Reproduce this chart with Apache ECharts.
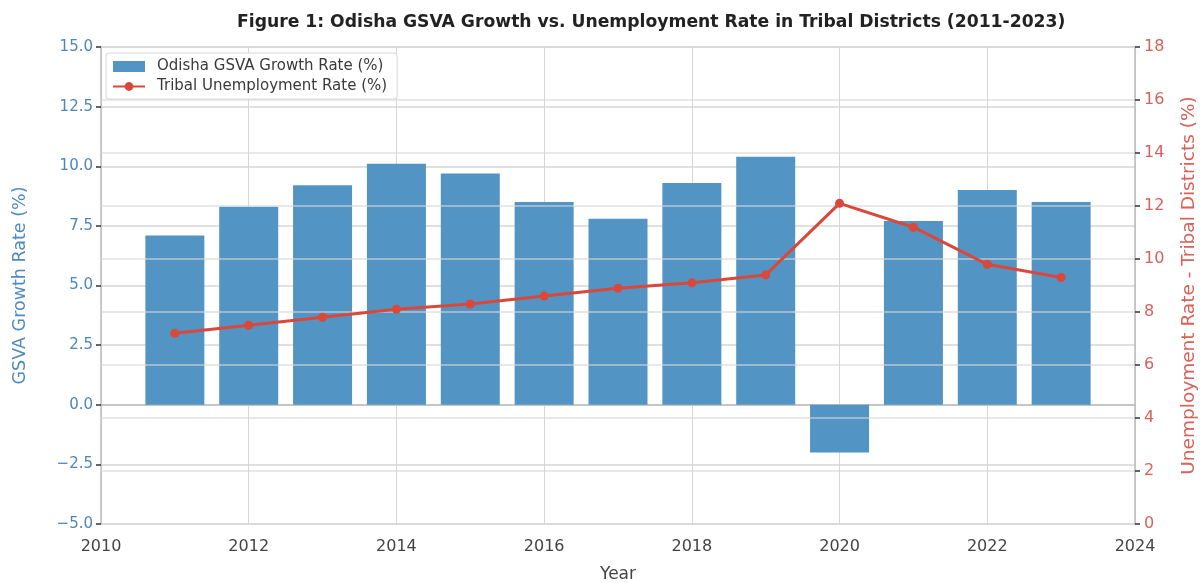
<!DOCTYPE html>
<html>
<head>
<meta charset="utf-8">
<script src="https://cdn.jsdelivr.net/npm/echarts@6/dist/echarts.min.js"></script>
<style>
  html, body { margin: 0; padding: 0; background: #fff; }
  #chart { width: 1202px; height: 583px; }
</style>
</head>
<body>
<div id="chart"></div>
<script>
// data
var years = [2011, 2012, 2013, 2014, 2015, 2016, 2017, 2018, 2019, 2020, 2021, 2022, 2023];
var gsvaGrowth = [7.1, 8.3, 9.2, 10.1, 9.7, 8.5, 7.8, 9.3, 10.4, -2.0, 7.7, 9.0, 8.5];
var tribalUnemp = [7.2, 7.5, 7.8, 8.1, 8.3, 8.6, 8.9, 9.1, 9.4, 12.1, 11.2, 9.8, 9.3];

var blue = '#5294c4';
var red = '#d9483b';
var font = 'DejaVu Sans';

function pairs(xs, ys) {
  var out = [];
  for (var i = 0; i < xs.length; i++) out.push([xs[i], ys[i]]);
  return out;
}

var chart = echarts.init(document.getElementById('chart'));

var option = {
  animation: false,
  textStyle: { fontFamily: font },
  title: {
    text: 'Figure 1: Odisha GSVA Growth vs. Unemployment Rate in Tribal Districts (2011-2023)',
    left: 232,
    top: 9,
    textStyle: { fontFamily: font, fontWeight: 'bold', fontSize: 17.2, color: '#222' }
  },
  legend: {
    left: 106,
    top: 53,
    orient: 'vertical',
    backgroundColor: '#fff',
    borderColor: '#d8d8d8',
    borderWidth: 1,
    borderRadius: 3,
    padding: [6, 10, 5, 6],
    itemGap: 5,
    itemWidth: 32,
    itemHeight: 11,
    textStyle: { fontFamily: font, fontSize: 15, color: '#3a3a3a', padding: [0, 0, 0, 7] },
    data: [
      { name: 'Odisha GSVA Growth Rate (%)', icon: 'rect' },
      { name: 'Tribal Unemployment Rate (%)' }
    ]
  },
  grid: { left: 101, right: 67, top: 47, bottom: 59, containLabel: false, outerBoundsMode: 'none' },
  xAxis: {
    type: 'value',
    min: 2010,
    max: 2024,
    interval: 2,
    name: 'Year',
    nameLocation: 'middle',
    nameGap: 42,
    nameTextStyle: { fontFamily: font, fontSize: 17, color: '#444' },
    axisLine: { show: true, lineStyle: { color: '#bcbcbc', width: 1.5 } },
    axisTick: { show: false },
    axisLabel: {
      fontFamily: font, fontSize: 16, color: '#444', margin: 15,
      formatter: function (v) { return String(v); }
    },
    splitLine: { show: true, lineStyle: { color: '#d6d6d6', width: 1 } }
  },
  yAxis: [
    {
      type: 'value',
      min: -5,
      max: 15,
      interval: 2.5,
      name: 'GSVA Growth Rate (%)',
      nameLocation: 'middle',
      nameGap: 72,
      nameRotate: 90,
      nameTextStyle: { fontFamily: font, fontSize: 17.5, color: '#4f8bbf' },
      axisLine: { show: true, lineStyle: { color: '#bcbcbc', width: 1.5 } },
      axisTick: { show: true, length: 5, lineStyle: { color: '#333', width: 1.5 } },
      axisLabel: {
        fontFamily: font, fontSize: 15, color: '#4f86b8', margin: 8,
        formatter: function (v) { return (v < 0 ? '\u2212' : '') + Math.abs(v).toFixed(1); }
      },
      splitLine: { show: true, lineStyle: { color: '#d6d6d6', width: 1.5 } }
    },
    {
      type: 'value',
      min: 0,
      max: 18,
      interval: 2,
      position: 'right',
      z: 3,
      name: 'Unemployment Rate - Tribal Districts (%)',
      nameLocation: 'middle',
      nameGap: 45,
      nameRotate: 90,
      nameTextStyle: { fontFamily: font, fontSize: 18.5, color: '#d6625a' },
      axisLine: { show: true, lineStyle: { color: '#bcbcbc', width: 1.5 } },
      axisTick: { show: true, length: 5, lineStyle: { color: '#333', width: 1.5 } },
      axisLabel: { fontFamily: font, fontSize: 16, color: '#d6625a', margin: 9 },
      splitLine: { show: true, lineStyle: { color: 'rgba(215,215,215,0.75)', width: 1.5 } }
    }
  ],
  series: [
    {
      name: 'Odisha GSVA Growth Rate (%)',
      type: 'bar',
      yAxisIndex: 0,
      barWidth: 59,
      itemStyle: { color: blue },
      data: pairs(years, gsvaGrowth)
    },
    {
      name: 'Tribal Unemployment Rate (%)',
      type: 'line',
      yAxisIndex: 1,
      z: 5,
      symbol: 'circle',
      symbolSize: 9,
      itemStyle: { color: red },
      lineStyle: { color: red, width: 3 },
      data: pairs(years, tribalUnemp)
    }
  ]
};

chart.setOption(option);
</script>
</body>
</html>
